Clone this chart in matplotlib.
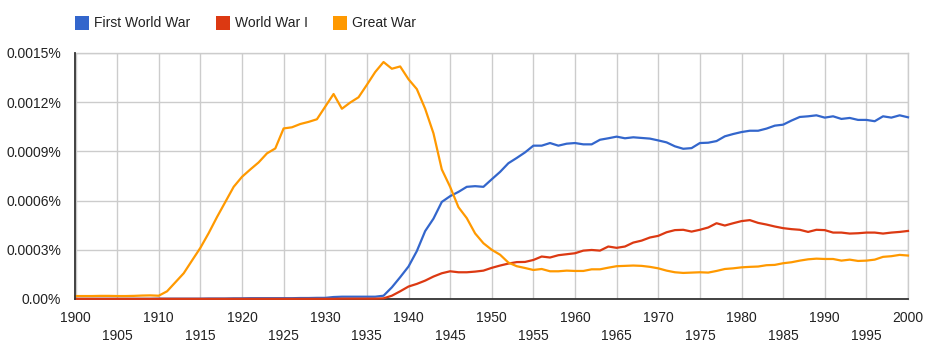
import matplotlib
matplotlib.use('Agg')
import matplotlib.pyplot as plt
import matplotlib.patches as patches
import numpy as np

plt.rcParams['font.family'] = ['Liberation Sans', 'DejaVu Sans']

# values in units of 0.0001 %
years = np.arange(1900, 2001)

first_world_war = [
    0.01, 0.01, 0.01, 0.01, 0.01, 0.01, 0.01, 0.01, 0.01, 0.01,   # 1900s
    0.02, 0.02, 0.02, 0.02, 0.02, 0.02, 0.03, 0.03, 0.03, 0.04,   # 1910s
    0.04, 0.05, 0.05, 0.05, 0.05, 0.05, 0.05, 0.06, 0.06, 0.07,   # 1920s
    0.07, 0.12, 0.14, 0.14, 0.14, 0.14, 0.14, 0.2, 0.71, 1.33,    # 1930s
    1.98, 2.92, 4.14, 4.9, 5.92, 6.27, 6.53, 6.84, 6.88, 6.84,    # 1940s
    7.3, 7.75, 8.28, 8.6, 8.94, 9.35, 9.35, 9.51, 9.35, 9.47,     # 1950s
    9.51, 9.43, 9.43, 9.71, 9.8, 9.9, 9.8, 9.86, 9.82, 9.78,      # 1960s
    9.67, 9.55, 9.31, 9.16, 9.2, 9.51, 9.53, 9.63, 9.92, 10.06,   # 1970s
    10.18, 10.26, 10.26, 10.39, 10.57, 10.63, 10.88, 11.1, 11.14, 11.2,  # 1980s
    11.06, 11.14, 10.98, 11.04, 10.92, 10.92, 10.84, 11.14, 11.06, 11.2,  # 1990s
    11.08,
]

world_war_i = [
    0.01, 0.01, 0.01, 0.01, 0.01, 0.01, 0.01, 0.01, 0.01, 0.01,
    0.01, 0.01, 0.01, 0.01, 0.01, 0.01, 0.01, 0.01, 0.01, 0.01,
    0.01, 0.01, 0.01, 0.01, 0.01, 0.01, 0.01, 0.01, 0.01, 0.01,
    0.01, 0.01, 0.02, 0.02, 0.02, 0.02, 0.02, 0.04, 0.2, 0.47,
    0.76, 0.92, 1.12, 1.37, 1.57, 1.69, 1.63, 1.63, 1.67, 1.73,
    1.9, 2.04, 2.16, 2.25, 2.26, 2.38, 2.59, 2.53, 2.67, 2.73,
    2.79, 2.95, 2.99, 2.95, 3.2, 3.12, 3.2, 3.44, 3.56, 3.75,
    3.85, 4.07, 4.2, 4.22, 4.11, 4.22, 4.36, 4.62, 4.48, 4.62,
    4.75, 4.81, 4.64, 4.54, 4.42, 4.32, 4.26, 4.22, 4.09, 4.22,
    4.2, 4.05, 4.05, 3.99, 4.01, 4.05, 4.05, 3.99, 4.05, 4.09,
    4.15,
]

great_war = [
    0.18, 0.18, 0.18, 0.19, 0.19, 0.18, 0.18, 0.19, 0.21, 0.22,
    0.2, 0.47, 1.02, 1.57, 2.35, 3.12, 4.02, 5.0, 5.92, 6.84,
    7.45, 7.9, 8.33, 8.88, 9.18, 10.4, 10.47, 10.67, 10.8, 10.96,
    11.73, 12.5, 11.6, 11.98, 12.3, 13.06, 13.84, 14.45, 14.04, 14.18,
    13.4, 12.8, 11.6, 10.1, 7.9, 6.84, 5.6, 4.93, 4.0, 3.4,
    3.0, 2.7, 2.22, 2.0, 1.89, 1.77, 1.83, 1.69, 1.69, 1.73,
    1.71, 1.71, 1.81, 1.81, 1.91, 2.0, 2.02, 2.04, 2.02, 1.96,
    1.87, 1.73, 1.63, 1.59, 1.61, 1.63, 1.61, 1.71, 1.83, 1.87,
    1.93, 1.96, 1.98, 2.06, 2.08, 2.18, 2.24, 2.34, 2.42, 2.46,
    2.44, 2.44, 2.34, 2.4, 2.32, 2.34, 2.4, 2.57, 2.61, 2.69,
    2.65,
]

series_names = ['First World War', 'World War I', 'Great War']
series_colors = ['#3366cc', '#dc3912', '#ff9900']

y_ticks = [0, 3, 6, 9, 12, 15]
y_labels = ['0.00%', '0.0003%', '0.0006%', '0.0009%', '0.0012%', '0.0015%']
decades = list(range(1900, 2001, 10))
halves = list(range(1905, 2000, 10))

W, H = 928, 349
fig = plt.figure(figsize=(W / 100, H / 100), dpi=100)
ax = fig.add_axes([75.5 / W, 1 - 299 / H, (908 - 75.5) / W, (299 - 53) / H])

for vals, name, col in zip([first_world_war, world_war_i, great_war],
                           series_names, series_colors):
    ax.plot(years, vals, color=col, lw=1.6, zorder=3, clip_on=False,
            solid_joinstyle='round')

ax.set_xlim(1900, 2000)
ax.set_ylim(0, 15)

ax.set_yticks(y_ticks)
ax.set_yticklabels(y_labels)
ax.set_xticks(decades)
ax.set_xticklabels([str(d) for d in decades])
ax.set_xticks(halves, minor=True)
ax.set_xticklabels([str(d) for d in halves], minor=True)

ax.tick_params(axis='both', which='both', length=0, labelsize=10, labelcolor='#222222')
ax.tick_params(axis='x', which='major', pad=9)
ax.tick_params(axis='x', which='minor', pad=21.5)
ax.tick_params(axis='y', pad=10.5)

ax.grid(True, which='both', color='#cccccc', lw=1)
ax.set_axisbelow(True)

for s in ['top', 'right']:
    ax.spines[s].set_color('#cccccc')
    ax.spines[s].set_linewidth(1)
for s in ['left', 'bottom']:
    ax.spines[s].set_color('#333333')
    ax.spines[s].set_linewidth(1.3)
ax.spines['left'].set_zorder(4)
ax.spines['bottom'].set_zorder(2.6)

# legend (manual, Google Ngram style)
legend_x = [75, 216, 333]
for x0, name, col in zip(legend_x, series_names, series_colors):
    fig.patches.append(patches.Rectangle((x0 / W, 1 - 30 / H), 14 / W, 14 / H,
                                         transform=fig.transFigure, fc=col, ec='none'))
    fig.text((x0 + 19) / W, 1 - 23 / H, name, fontsize=10, color='#222222',
             ha='left', va='center')

fig.savefig('out.png', dpi=100, facecolor='white')
